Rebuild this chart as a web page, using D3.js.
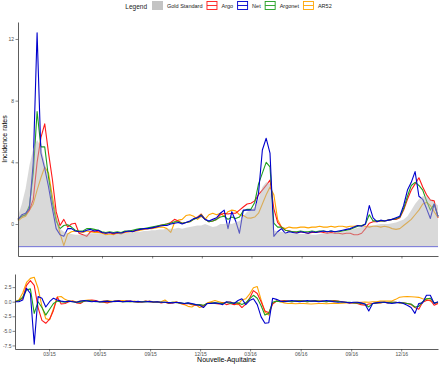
<!DOCTYPE html>
<html>
<head>
<meta charset="utf-8">
<script src="https://cdn.jsdelivr.net/npm/d3@7"></script>
<style>
  body { margin: 0; background: #fff; }
  svg { display: block; font-family: "Liberation Sans", Arial, sans-serif; }
</style>
</head>
<body>
<div class="chart"></div>
<script>

// weekly series, first to last week (ISO weeks)
const FIRST_WEEK = "2014-12-29";
const LAST_WEEK = "2017-02-06";
const TICK_DATES = ["2015-03-01", "2015-06-01", "2015-09-01", "2015-12-01",
                    "2016-03-01", "2016-06-01", "2016-09-01", "2016-12-01"];
const Y_TICKS_TOP = [0, 4, 8, 12];
const Y_TICKS_BOTTOM = [-7.5, -5, -2.5, 0, 2.5];
const GOLD_BASE = -1.47;

const GOLD = [0.5, 1.3, 2.3, 3.8, 4.9, 5.45, 5.0, 4.0, 2.9, 1.8, 0.6, -0.3, -0.5,
  -0.6, -0.65, -0.7, -0.7, -0.7, -0.65, -0.6, -0.6, -0.6, -0.65, -0.7, -0.7, -0.7, -0.65, -0.6, -0.6, -0.55, -0.55, -0.5, -0.5, -0.45, -0.45, -0.4, -0.4, -0.35, -0.35, -0.3, -0.3, -0.3, -0.25, -0.3, -0.25, -0.2, -0.15, -0.1,
  -0.1, 0.0, -0.1, -0.2, -0.15, 0.0, 0.0, 0.05, 0.0, 0.1, 0.2, 0.5, 0.8, 0.9,
  1.1, 1.6, 2.4, 2.7, 2.6, -0.4, -0.5, -0.5,
  -0.55, -0.6, -0.6, -0.6, -0.65, -0.65, -0.65, -0.7, -0.7, -0.65, -0.6, -0.6, -0.55, -0.6, -0.55, -0.5, -0.45, -0.4, -0.3, -0.25, -0.2, -0.15, -0.1, -0.1, -0.05, 0.0,
  0.0, 0.0, 0.05, 0.1, 0.2, 0.3, 0.5, 0.9, 1.3, 1.6, 1.8, 1.8, 1.6, 1.4, 1.2];

const ARGO = [0.3, 0.5, 0.6, 0.9, 1.6, 4.0, 5.6, 6.5, 4.6, 2.9, 0.8, -0.1, 0.3,
  -0.2, 0.0, 0.05, -0.6, -0.7, -0.8, -0.5, -0.45, -0.5, -0.55, -0.6, -0.55, -0.65, -0.55, -0.6, -0.5, -0.5, -0.45, -0.4, -0.35, -0.3, -0.3, -0.25, -0.2, -0.1, -0.05, 0.0, 0.1, 0.3, 0.2, 0.05, 0.1, 0.15, 0.3, 0.45,
  0.65, 0.3, 0.15, 0.2, 0.3, 0.6, 0.7, 0.65, 0.7, 0.7, 0.9, 1.1, 1.3, 1.35,
  1.5, 1.9, 2.2, 2.5, 2.85, 1.0, 0.1, -0.2,
  -0.4, -0.45, -0.5, -0.55, -0.5, -0.55, -0.6, -0.55, -0.55, -0.5, -0.55, -0.6, -0.55, -0.6, -0.6, -0.65, -0.6, -0.6, -0.7, -0.7, -0.6, -0.3, 0.05, 0.15, 0.15, 0.2,
  0.2, 0.25, 0.3, 0.3, 0.4, 0.9, 1.6, 2.2, 2.6, 3.0, 2.4, 1.9, 1.55, 1.5, 0.4];

const NET = [0.3, 0.6, 0.7, 1.0, 4.0, 12.4, 4.6, 3.6, 2.4, 1.0, -0.3, -0.7, -0.8,
  -0.3, -0.3, -0.45, -0.5, -0.5, -0.4, -0.35, -0.45, -0.4, -0.55, -0.6, -0.55, -0.6, -0.55, -0.6, -0.5, -0.45, -0.5, -0.4, -0.35, -0.3, -0.3, -0.25, -0.2, -0.15, -0.1, -0.1, 0.0, 0.05, 0.1, 0.0, 0.1, 0.2, 0.35, 0.4,
  0.55, 0.3, 0.2, 0.3, 0.4, 0.7, 0.9, -0.3, 0.8, 0.2, -0.6, 0.9, 0.9, 0.9,
  0.9, 2.0, 4.8, 5.56, 4.6, -0.8, -0.5, -0.3,
  -0.6, -0.5, -0.55, -0.6, -0.5, -0.55, -0.6, -0.5, -0.55, -0.5, -0.45, -0.5, -0.45, -0.5, -0.45, -0.4, -0.35, -0.3, -0.2, -0.1, -0.15, 0.0, 1.2, 0.4, 0.15, 0.25,
  0.2, 0.25, 0.3, 0.4, 0.5, 1.2, 2.2, 2.7, 3.4, 1.8, 1.6, 1.0, 0.36, 1.3, 0.5];

const ARGONET = [0.3, 0.5, 0.6, 1.2, 3.3, 7.3, 5.0, 5.0, 3.0, 1.4, 0.2, -0.3, -0.1,
  -0.05, -0.2, -0.4, -0.45, -0.45, -0.3, -0.3, -0.35, -0.4, -0.5, -0.55, -0.5, -0.55, -0.5, -0.55, -0.45, -0.45, -0.4, -0.35, -0.3, -0.3, -0.25, -0.2, -0.15, -0.1, -0.05, 0.0, 0.05, 0.15, 0.15, 0.05, 0.1, 0.15, 0.3, 0.4,
  0.6, 0.3, 0.15, 0.2, 0.3, 0.45, 0.5, 0.3, 0.45, 0.35, 0.45, 0.85, 0.95, 0.95,
  1.4, 2.6, 3.3, 4.0, 3.7, 0.05, -0.2, -0.2,
  -0.4, -0.45, -0.5, -0.5, -0.45, -0.5, -0.5, -0.45, -0.5, -0.45, -0.45, -0.5, -0.45, -0.5, -0.5, -0.45, -0.4, -0.35, -0.25, -0.15, -0.1, 0.0, 0.6, 0.2, 0.2, 0.2,
  0.2, 0.25, 0.3, 0.35, 0.45, 1.0, 1.8, 2.5, 2.7, 2.5, 2.2, 1.5, 0.9, 1.3, 0.5];

const AR52 = [0.2, 0.4, 0.5, 0.9, 1.3, 2.2, 3.0, 3.7, 3.3, 1.8, 0.4, -0.6, -1.4,
  -0.65, -0.5, -0.45, -0.5, -0.55, -0.45, -0.5, -0.55, -0.55, -0.6, -0.7, -0.65, -0.7, -0.6, -0.65, -0.55, -0.5, -0.5, -0.45, -0.4, -0.35, -0.3, -0.3, -0.25, -0.2, -0.2, -0.3, -0.55, 0.1, 0.25, 0.3, 0.55, 0.6, 0.5, 0.3,
  0.5, 0.3, 0.6, 0.7, 0.6, 0.7, 0.5, 0.8, 0.9, 0.85, 0.6, 0.55, 0.4, 0.38,
  0.45, 0.7, 1.3, 1.9, 2.4, 1.9, 0.3, -0.2,
  -0.3, -0.2, -0.25, -0.25, -0.2, -0.2, -0.25, -0.2, -0.2, -0.15, -0.2, -0.2, -0.15, -0.2, -0.15, -0.15, -0.2, -0.15, -0.15, -0.1, -0.1, -0.15, -0.2, -0.15, -0.15, -0.2,
  -0.15, -0.2, -0.3, -0.35, -0.3, -0.1, 0.1, 0.3, 0.6, 0.9, 1.3, 1.4, 1.2, 0.8, 0.4];

// residuals, lower panel
const ARGO_RES = [0.0, 0.2, 0.6, 2.8, 3.6, 2.8, -1.0, -3.2, -3.7, -3.0, -1.5, 0.8, -0.4, -0.3, 0.0,
  0.1, -0.2, -0.3, 0.1, 0.2, 0.3, 0.2, 0.0, -0.1, -0.2, 0.0, 0.1, 0.2, 0.0, 0.1, 0.1, 0.0, -0.1, 0.0, 0.1, 0.0, -0.1, 0.0, -0.2, -0.1, -0.3, -0.2, -0.1, -0.3, -0.4, -0.3, -0.5,
  -0.6, -0.5, -0.7, -0.3, -0.2, -0.3, -0.4, -0.2, -0.5, -0.3, -0.5,
  -0.3, -1.0, -0.4, 0.6, 1.9, 1.4, 0.0, -1.6, -1.9, -0.4, 0.1, 0.1,
  0.2, 0.1, 0.0, 0.1, 0.2, 0.1, 0.0, 0.1, 0.2, 0.1, 0.1, 0.0, 0.1, 0.2, 0.1, 0.0, -0.1, -0.2, -0.2, -0.3, -0.5, -0.6,
  -0.4, -0.3, -0.2, -0.2, -0.1, -0.2, -0.1, -0.1,
  -0.2, -0.2, -0.3, -0.5, -1.0, -1.3, -0.1, 0.2, 0.3, -0.6, -0.3];

const NET_RES = [0.0, 0.0, 0.3, 2.3, 1.4, -7.3, 0.9, 0.6, -0.9, 0.0, 0.6, 0.3, 0.1, 0.0, 0.1,
  0.0, -0.1, 0.1, 0.2, 0.1, 0.0, 0.1, -0.05, 0.05, 0.1, 0.0, 0.05, 0.1, 0.0, 0.05, 0.1, 0.0, 0.05, -0.05, 0.0, 0.05, -0.05, 0.0, -0.1, -0.1, -0.15, -0.2, -0.1, -0.2, -0.3, -0.2, -0.3,
  -0.5, -0.6, -1.0, -0.3, -0.3, -0.2, -0.3, -0.5, 0.0, -0.1, -0.3,
  0.2, 0.5, -0.5, 0.2, 0.5, -0.5, -2.6, -3.7, -3.6, 0.6, 0.4, 0.1,
  0.0, 0.1, 0.2, 0.1, 0.0, 0.1, 0.2, 0.1, 0.1, 0.0, 0.1, 0.2, 0.1, 0.0, -0.1, 0.0, -0.1, -0.2, -0.1, -0.1, -0.2, -0.4,
  -1.6, -0.3, -0.2, -0.1, -0.1, -0.2, -0.3, -0.2,
  -0.1, -0.3, -0.6, -1.0, -2.0, -0.3, -0.2, 1.1, 1.1, -0.3, 0.0];

const ARGONET_RES = [0.0, 0.2, 0.8, 2.0, 2.2, -2.0, 0.0, -1.0, -2.3, -1.3, -0.3, 0.1, 0.0, -0.1, 0.1,
  0.0, -0.1, -0.1, 0.1, 0.2, 0.1, 0.0, 0.0, -0.05, 0.05, 0.0, 0.1, 0.05, 0.0, 0.05, 0.0, 0.0, -0.05, 0.0, 0.05, 0.0, -0.05, -0.05, -0.1, -0.1, -0.2, -0.1, -0.15, -0.2, -0.3, -0.25, -0.4,
  -0.5, -0.5, -0.6, -0.3, -0.25, -0.2, -0.25, -0.3, -0.1, -0.3, -0.2,
  -0.2, -0.5, -0.2, 0.5, 1.1, 0.6, -0.7, -2.3, -2.0, -0.1, 0.1, 0.0,
  0.1, 0.05, 0.0, 0.1, 0.15, 0.1, 0.0, 0.1, 0.15, 0.1, 0.05, 0.0, 0.1, 0.1, 0.05, -0.05, -0.1, -0.1, -0.2, -0.2, -0.3, -0.4,
  -0.9, -0.3, -0.2, -0.15, -0.1, -0.15, -0.1, -0.1,
  -0.2, -0.2, -0.3, -0.4, -0.9, -0.8, 0.0, 0.5, 0.6, -0.2, -0.1];

const AR52_RES = [0.0, 0.3, 1.5, 3.3, 4.0, 4.2, 2.3, -0.8, -2.9, -3.1, -1.2, 0.8, 0.9, 0.4, 0.1,
  0.1, 0.0, 0.1, 0.2, 0.3, 0.2, 0.1, 0.0, 0.1, 0.2, 0.1, 0.0, 0.1, 0.2, 0.1, 0.0, 0.1, 0.0, -0.1, 0.0, 0.1, 0.0, -0.1, 0.0, 0.3, -0.2, -0.1, 0.0, -0.3, -0.5, -0.8, -0.9,
  -0.5, -1.0, -0.8, -0.2, 0.0, 0.2, 0.0, -0.2, -0.1, 0.0, -0.3,
  -0.5, 0.3, 0.5, 1.3, 2.4, 2.6, 0.3, -1.8, -2.3, -0.3, 0.1, 0.0,
  -0.2, -0.3, -0.3, -0.35, -0.3, -0.3, -0.35, -0.4, -0.35, -0.3, -0.3, -0.35, -0.3, -0.25, -0.3, -0.25, -0.2, -0.2, -0.15, -0.1, -0.1, -0.05,
  -0.1, 0.0, 0.0, 0.1, 0.1, 0.1, 0.1, 0.4,
  0.75, 0.85, 0.9, 0.85, 0.8, 0.75, 0.5, 0.4, 0.1, -0.2, -0.3];

const LEGEND_LABELS = ["Gold Standard", "Argo", "Net", "Argonet", "AR52"];
const COLORS = { "Argo": "#ff1a1a", "Net": "#0000cd", "Argonet": "#1f9e1f", "AR52": "#ffa500" };

// drawing order: blue ends up on top
const SERIES = [
  { key: "AR52", upper: AR52, lower: AR52_RES },
  { key: "Argo", upper: ARGO, lower: ARGO_RES },
  { key: "Argonet", upper: ARGONET, lower: ARGONET_RES },
  { key: "Net", upper: NET, lower: NET_RES },
];

const WIDTH = 440, HEIGHT = 365;
const parse = d3.timeParse("%Y-%m-%d");
const weeks = d3.timeMonday.range(parse(FIRST_WEEK), d3.timeDay.offset(parse(LAST_WEEK), 1));

const svg = d3.select(".chart").append("svg")
  .attr("width", WIDTH).attr("height", HEIGHT);

const xTop = d3.scaleTime().domain([weeks[0], weeks[weeks.length - 1]]).range([18, 438]);
const xBot = xTop.copy().range([15, 438]);
const yTop = d3.scaleLinear().domain([-2.075, 13.1]).range([256, 22]);
const yBot = d3.scaleLinear().domain([-8.11, 4.75]).range([349, 274]);

function styleAxis(g) {
  g.select(".domain").attr("stroke", "#333").attr("stroke-width", 0.8);
  g.selectAll(".tick line").attr("stroke", "#333").attr("stroke-width", 0.6);
  g.selectAll(".tick text").attr("fill", "#4d4d4d").attr("font-size", 5)
    .attr("font-family", "Liberation Sans, Arial, sans-serif");
}

// ---- top panel
const topPanel = svg.append("g").attr("class", "top-panel");

SERIES.forEach(s => {
  topPanel.append("path")
    .datum(s.upper)
    .attr("d", d3.line().x((d, i) => xTop(weeks[i])).y(d => yTop(d)))
    .attr("fill", "none")
    .attr("stroke", COLORS[s.key])
    .attr("stroke-width", 1.1)
    .attr("stroke-linejoin", "round");
});

// gold standard drawn over the lines, semi transparent
topPanel.append("path")
  .datum(GOLD)
  .attr("d", d3.area()
    .x((d, i) => xTop(weeks[i]))
    .y0(yTop(GOLD_BASE))
    .y1(d => yTop(d)))
  .attr("fill", "#b3b3b3")
  .attr("fill-opacity", 0.5);

topPanel.append("line")
  .attr("x1", xTop.range()[0]).attr("x2", xTop.range()[1])
  .attr("y1", yTop(GOLD_BASE)).attr("y2", yTop(GOLD_BASE))
  .attr("stroke", "#6363d6").attr("stroke-width", 0.9);

topPanel.append("g")
  .attr("transform", `translate(0,${yTop.range()[0]})`)
  .call(d3.axisBottom(xTop).tickValues(TICK_DATES.map(parse)).tickFormat("").tickSize(2.5).tickSizeOuter(0))
  .call(styleAxis);

topPanel.append("g")
  .attr("transform", `translate(${xTop.range()[0]},0)`)
  .call(d3.axisLeft(yTop).tickValues(Y_TICKS_TOP).tickFormat(d => String(d)).tickSize(2.5).tickPadding(1.5).tickSizeOuter(0))
  .call(styleAxis);

svg.append("text")
  .attr("transform", `translate(7,${(yTop.range()[0] + yTop.range()[1]) / 2}) rotate(-90)`)
  .attr("text-anchor", "middle")
  .attr("font-size", 7)
  .attr("fill", "#000")
  .text("Incidence rates");

// ---- bottom panel
const botPanel = svg.append("g").attr("class", "bottom-panel");

SERIES.forEach(s => {
  botPanel.append("path")
    .datum(s.lower)
    .attr("d", d3.line().x((d, i) => xBot(weeks[i])).y(d => yBot(d)))
    .attr("fill", "none")
    .attr("stroke", COLORS[s.key])
    .attr("stroke-width", 1.1)
    .attr("stroke-linejoin", "round");
});

botPanel.append("g")
  .attr("transform", `translate(0,${yBot.range()[0]})`)
  .call(d3.axisBottom(xBot).tickValues(TICK_DATES.map(parse)).tickFormat(d3.timeFormat("%m/%y")).tickSize(2.5).tickPadding(1).tickSizeOuter(0))
  .call(styleAxis);

botPanel.append("g")
  .attr("transform", `translate(${xBot.range()[0]},0)`)
  .call(d3.axisLeft(yBot).tickValues(Y_TICKS_BOTTOM).tickFormat(d => d.toFixed(1)).tickSize(2.5).tickPadding(1).tickSizeOuter(0))
  .call(styleAxis);

svg.append("text")
  .attr("x", (xBot.range()[0] + xBot.range()[1]) / 2)
  .attr("y", 362)
  .attr("text-anchor", "middle")
  .attr("font-size", 7)
  .attr("fill", "#000")
  .text("Nouvelle-Aquitaine");

// ---- legend on top, centred
const legend = svg.append("g").attr("class", "legend");
const KEY_W = 11, KEY_H = 9;
let cx = 0;
const title = legend.append("text").attr("x", 0).attr("y", 8.5)
  .attr("font-size", 6.5).attr("fill", "#1a1a1a").text("Legend");
cx = title.node().getComputedTextLength() + 5;

LEGEND_LABELS.forEach((label, i) => {
  const k = legend.append("g").attr("transform", `translate(${cx},1)`);
  if (i === 0) {
    k.append("rect").attr("width", KEY_W).attr("height", KEY_H).attr("fill", "#c4c4c4");
  } else {
    k.append("rect").attr("x", 0.5).attr("y", 0.5).attr("width", KEY_W - 1).attr("height", KEY_H - 1)
      .attr("fill", "#fff").attr("stroke", COLORS[label]).attr("stroke-width", 0.9);
    k.append("line").attr("x1", 0.5).attr("x2", KEY_W - 0.5).attr("y1", KEY_H / 2).attr("y2", KEY_H / 2)
      .attr("stroke", COLORS[label]).attr("stroke-width", 0.9);
  }
  const t = legend.append("text").attr("x", cx + KEY_W + 4).attr("y", 7.8)
    .attr("font-size", 5.5).attr("fill", "#1a1a1a").text(label);
  cx += KEY_W + 4 + t.node().getComputedTextLength() + 4;
});

const legendWidth = cx - 4;
legend.attr("transform", `translate(${228.5 - legendWidth / 2},0)`);

</script>
</body>
</html>
